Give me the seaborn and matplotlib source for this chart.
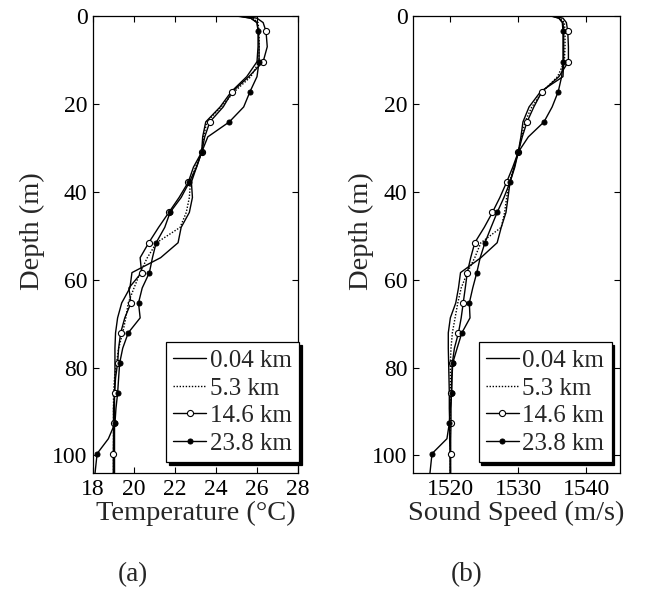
import numpy as np
import pandas as pd
import matplotlib
matplotlib.use("Agg")
import matplotlib.pyplot as plt
import seaborn as sns

# ---------------- data ----------------
depth = [0, 0.5, 1.5, 3.5, 7, 10.4, 13.8, 17.2, 20.7, 24.1, 27.5, 31, 34.4, 37.8,
         41.3, 44.7, 48.1, 51.6, 55, 58.4, 61.9, 65.3, 68.7, 72.1, 75.6, 79,
         82.4, 85.9, 89.3, 92.7, 96.2, 99.6, 104]

labels = ["0.04 km", "5.3 km", "14.6 km", "23.8 km"]

temp_004 = [25.0, 25.7, 26.0, 26.05, 26.05, 26.0, 25.5, 24.75, 24.2, 23.5, 23.35, 23.3,
            23.05, 22.8, 22.85, 22.7, 22.3, 22.15, 21.3, 19.9, 19.8, 19.4, 19.2, 19.1,
            19.07, 19.07, 19.07, 19.05, 19.05, 19.05, 19.05, 19.05, 19.05]
temp_53 = [25.2, 25.8, 26.05, 26.1, 26.1, 26.1, 25.7, 24.9, 24.25, 23.55, 23.4, 23.3,
           23.0, 22.75, 22.7, 22.55, 22.25, 21.1, 20.65, 20.3, 20.0, 19.72, 19.6, 19.45,
           19.25, 19.15, 19.05, 19.0, 19.0, 19.0, 19.0, 19.0, 19.0]
temp_146 = [25.3, 26.0, 26.3, 26.44, 26.5, 26.3, 25.6, 24.8, 24.35, 23.7, 23.45, 23.3,
            22.9, 22.65, 22.2, 21.7, 21.2, 20.72, 20.3, 20.37, 19.75, 19.85, 19.55, 19.35,
            19.25, 19.2, 19.1, 19.05, 19.0, 19.0, 19.0, 18.99, 18.99]
temp_238 = [25.1, 25.7, 26.0, 26.07, 26.1, 26.1, 26.0, 25.66, 25.35, 24.65, 23.6, 23.3,
            23.05, 22.7, 22.3, 21.76, 21.5, 21.08, 20.9, 20.75, 20.4, 20.22, 20.3, 19.72,
            19.45, 19.3, 19.25, 19.2, 19.12, 19.07, 18.75, 18.2, 18.1]

ss_004 = [1534.8, 1536.0, 1536.6, 1536.7, 1536.7, 1536.7, 1536.6, 1533.3, 1531.6, 1530.7,
          1530.4, 1530.0, 1529.5, 1528.8, 1528.5, 1528.2, 1527.5, 1526.9, 1524.5, 1521.5,
          1521.2, 1520.8, 1520.0, 1519.7, 1519.7, 1519.75, 1519.8, 1519.85, 1519.85,
          1519.9, 1519.9, 1519.95, 1519.95]
ss_53 = [1535.0, 1536.2, 1536.8, 1536.9, 1536.9, 1536.8, 1535.8, 1533.6, 1532.0, 1531.0,
         1530.5, 1530.0, 1529.4, 1528.7, 1528.3, 1528.0, 1527.5, 1524.5, 1523.6, 1522.5,
         1521.6, 1521.1, 1520.7, 1520.3, 1520.1, 1520.0, 1520.0, 1520.0, 1520.0, 1520.0,
         1520.0, 1520.0, 1520.0]
ss_146 = [1535.2, 1536.6, 1537.1, 1537.3, 1537.4, 1537.4, 1536.0, 1533.5, 1532.3, 1531.3,
          1530.6, 1530.0, 1529.2, 1528.3, 1527.3, 1526.2, 1525.0, 1523.6, 1523.0, 1522.5,
          1522.2, 1521.9, 1521.6, 1521.2, 1520.6, 1520.3, 1520.2, 1520.15, 1520.1, 1520.1,
          1520.05, 1520.05, 1520.05]
ss_238 = [1535.0, 1536.0, 1536.5, 1536.6, 1536.6, 1536.6, 1536.4, 1535.9, 1535.0, 1533.8,
          1531.5, 1530.0, 1529.4, 1528.8, 1527.9, 1526.9, 1526.0, 1525.1, 1524.4, 1523.9,
          1523.3, 1522.8, 1522.9, 1521.7, 1521.0, 1520.35, 1520.25, 1520.2, 1520.0, 1519.85,
          1519.5, 1517.3, 1517.0]

temp_xticks = [18, 20, 22, 24, 26, 28]
ss_xticks = [1520, 1530, 1540]
depth_ticks = [0, 20, 40, 60, 80, 100]

# ---------------- style ----------------
sns.set_style("ticks")
plt.rcParams["font.family"] = ["Liberation Serif", "DejaVu Serif"]

fig = plt.figure(figsize=(6.47, 5.99), dpi=100)
axL = fig.add_axes([93 / 647, 126 / 599, 205 / 647, 457 / 599])
axR = fig.add_axes([413 / 647, 126 / 599, 207 / 647, 457 / 599])

styles = [
    dict(linestyle="-", marker=None),
    dict(linestyle=(0, (1, 1.2)), marker=None),
    dict(linestyle="-", marker="o", markersize=4.4, markerfacecolor="white",
         markeredgecolor="black", markeredgewidth=0.8),
    dict(linestyle="-", marker="o", markersize=3.6, markerfacecolor="black",
         markeredgecolor="black"),
]
mark_idx = list(range(3, len(depth), 2))


def draw(ax, series, xlim, xticks, xlabel, legend_anchor, ylab_x):
    for vals, lab, st in zip(series, labels, styles):
        df = pd.DataFrame({"x": vals, "depth": depth})
        kw = dict(st)
        if kw.get("marker") is not None:
            kw["markevery"] = mark_idx
        else:
            kw.pop("marker")
        sns.lineplot(data=df, x="x", y="depth", sort=False, estimator=None,
                     color="black", linewidth=1.0, label=lab, ax=ax, **kw)
    ax.set_xlim(*xlim)
    ax.set_ylim(104, 0)
    ax.set_xticks(xticks)
    ax.set_yticks(depth_ticks)
    ax.tick_params(direction="in", length=4, width=0.8, top=True, right=True,
                   labelsize=17, pad=4, colors="black")
    for s in ax.spines.values():
        s.set_visible(True)
        s.set_linewidth(0.9)
        s.set_color("black")
    ax.set_xlabel(xlabel, fontsize=20.5, labelpad=1)
    ax.set_ylabel("Depth (m)", fontsize=20.5)
    ax.yaxis.set_label_coords(ylab_x, 0.53)
    leg = ax.legend(loc="lower right", bbox_to_anchor=legend_anchor,
                    borderaxespad=0, fontsize=18, frameon=True, fancybox=False,
                    edgecolor="black", framealpha=1, handlelength=1.3,
                    handletextpad=0.15, labelspacing=0.2, borderpad=0.3,
                    shadow={"color": "black", "alpha": 1})
    leg.get_frame().set_linewidth(0.9)


draw(axL, [temp_004, temp_53, temp_146, temp_238], (18, 28), temp_xticks,
     "Temperature (°C)", (1.005, 0.024), -0.235)
draw(axR, [ss_004, ss_53, ss_146, ss_238], (1514.5, 1545), ss_xticks,
     "Sound Speed (m/s)", (0.96, 0.024), -0.19)

fig.text(133 / 647, 1 - 575 / 599, "(a)", ha="center", va="center", fontsize=19.5)
fig.text(467 / 647, 1 - 575 / 599, "(b)", ha="center", va="center", fontsize=19.5)

fig.savefig("out.png", dpi=100)
